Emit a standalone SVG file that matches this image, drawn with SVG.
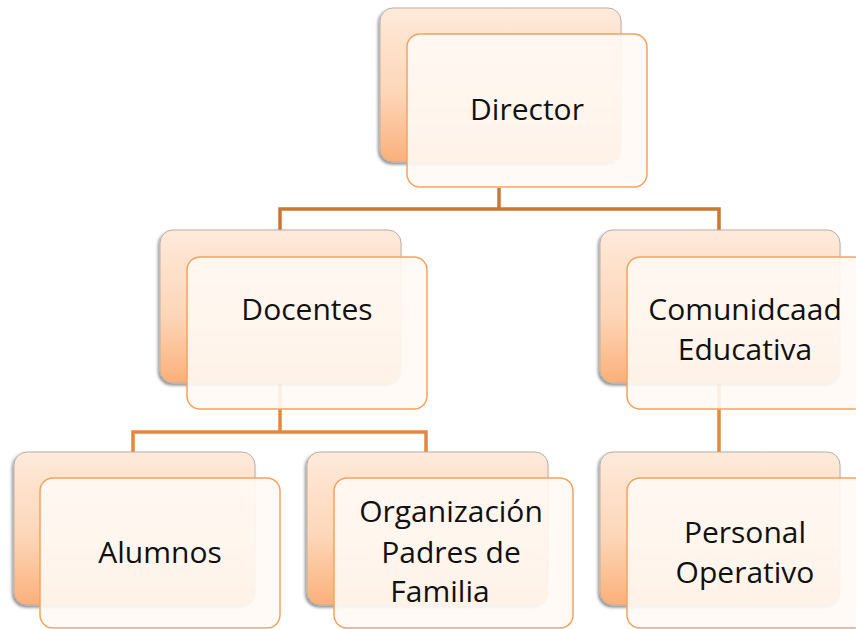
<svg xmlns="http://www.w3.org/2000/svg" width="856" height="629" viewBox="0 0 856 629">
<defs>
<linearGradient id="bg" x1="0" y1="0" x2="0" y2="1">
<stop offset="0" stop-color="#FEEADB"/>
<stop offset="0.55" stop-color="#FDD6B8"/>
<stop offset="1" stop-color="#FBB07A"/>
</linearGradient>
<filter id="sh" x="-10%" y="-10%" width="120%" height="125%">
<feDropShadow dx="-1.5" dy="2" stdDeviation="1.6" flood-color="#000" flood-opacity="0.45"/>
</filter>
</defs>
<style>
.back{fill:url(#bg);stroke:#B8B0AA;stroke-width:1;filter:url(#sh)}
.front{fill:#FFF9F4;fill-opacity:0.9;stroke:#F6A25E;stroke-width:1.5}
.t{font-family:"Open Sans","Liberation Sans",sans-serif;font-size:30px;fill:#111;text-anchor:middle}
.c1{fill:none;stroke:#CC7734;stroke-width:3.5}
.c2{fill:none;stroke:#E5883D;stroke-width:3.5}
</style>
<rect width="856" height="629" fill="#fff"/>
<g id="connectors">
<path class="c1" d="M499,188 V209 M280,231 V209 H719 V231"/>
<path class="c2" d="M280,384 V432 M133,453 V432 H426 V453"/>
<path class="c2" d="M719,384 V453"/>
</g>
<g id="director">
<rect class="back" x="380" y="8" width="241" height="154" rx="13"/>
<rect class="front" x="407" y="34" width="240" height="153" rx="13"/>
<text class="t" x="527" y="120">Director</text>
</g>
<g id="docentes">
<rect class="back" x="160" y="230" width="241" height="153" rx="13"/>
<rect class="front" x="187" y="257" width="240" height="152" rx="13"/>
<text class="t" x="307" y="320">Docentes</text>
</g>
<g id="comunidad">
<rect class="back" x="600" y="230" width="240" height="153" rx="13"/>
<rect class="front" x="627" y="257" width="240" height="152" rx="13"/>
<text class="t" x="745" y="320">Comunidcaad</text>
<text class="t" x="745" y="360">Educativa</text>
</g>
<g id="alumnos">
<rect class="back" x="14" y="452" width="241" height="153" rx="13"/>
<rect class="front" x="40" y="478" width="240" height="150" rx="13"/>
<text class="t" x="160" y="563">Alumnos</text>
</g>
<g id="organizacion">
<rect class="back" x="307" y="452" width="241" height="153" rx="13"/>
<rect class="front" x="334" y="478" width="239" height="150" rx="13"/>
<text class="t" x="451" y="522">Organización</text>
<text class="t" x="451" y="563">Padres de</text>
<text class="t" x="440" y="602">Familia</text>
</g>
<g id="personal">
<rect class="back" x="600" y="452" width="240" height="153" rx="13"/>
<rect class="front" x="627" y="478" width="240" height="150" rx="13"/>
<text class="t" x="745" y="543">Personal</text>
<text class="t" x="745" y="583">Operativo</text>
</g>
</svg>
